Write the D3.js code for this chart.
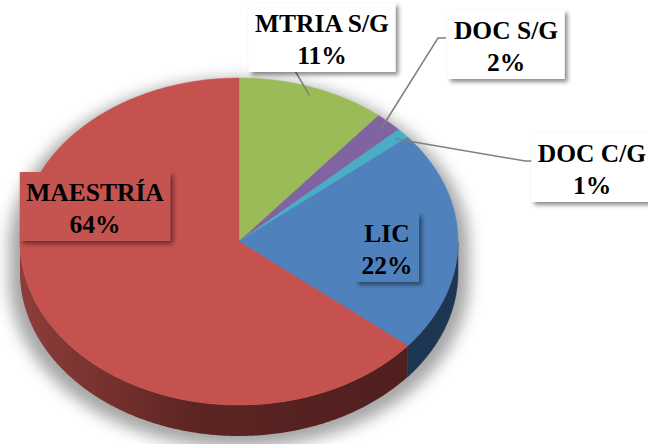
<!DOCTYPE html>
<html>
<head>
<meta charset="utf-8">
<script src="https://cdn.jsdelivr.net/npm/d3@7"></script>
<style>
  body { margin: 0; background: #fff; }
  .lbl { font-family: "Liberation Serif", "Times New Roman", serif; font-weight: bold; font-size: 25.5px; fill: #000; }
</style>
</head>
<body>
<div id="chart"></div>
<script>
// data
var labels = ["MTRIA S/G", "DOC S/G", "DOC C/G", "LIC", "MAESTRÍA"];
var values = [11, 2, 1, 22, 64];
var colors = ["#9BBB59", "#8064A2", "#4BACC6", "#4F81BD", "#C5524F"];
var sideColors = ["#5d7035", "#4c3c61", "#2d6776", "#1f3652", "#6e2b29"];

var svgWidth = 648;
var svgHeight = 444;

// pie geometry (top ellipse + depth)
var cx = 239, cy = 241.5, rx = 219, ry = 163.5, depth = 31;

// label box layout: centre x, top y, leader elbow / end
var boxes = [
  { x: 322, y: 3, inside: false, pts: [[291, 64]] },
  { x: 506, y: 10, inside: false, pts: [[438, 38], [446, 38]] },
  { x: 592, y: 133, inside: false, pts: [[525, 161], [533, 161]] },
  { x: 387, y: 213, inside: true },
  { x: 95, y: 172, inside: true }
];

var svg = d3.select("#chart").append("svg")
  .attr("width", svgWidth)
  .attr("height", svgHeight);

var defs = svg.append("defs");
defs.append("filter").attr("id", "pieShadow")
  .attr("x", "-20%").attr("y", "-20%").attr("width", "140%").attr("height", "140%")
  .append("feGaussianBlur").attr("stdDeviation", 7);

var ds = defs.append("filter").attr("id", "boxShadow")
  .attr("x", "-20%").attr("y", "-20%").attr("width", "150%").attr("height", "150%");
ds.append("feDropShadow").attr("dx", 3).attr("dy", 3).attr("stdDeviation", 2)
  .attr("flood-color", "#000").attr("flood-opacity", 0.45);

var grad = defs.append("linearGradient").attr("id", "redSide")
  .attr("gradientUnits", "userSpaceOnUse")
  .attr("x1", cx - rx).attr("x2", cx + rx).attr("y1", 0).attr("y2", 0);
grad.append("stop").attr("offset", "0%").attr("stop-color", "#8e3d3a");
grad.append("stop").attr("offset", "40%").attr("stop-color", "#5c2523");
grad.append("stop").attr("offset", "100%").attr("stop-color", "#4c1d1d");

function pt(a, dy) {
  return [cx + rx * Math.sin(a), cy - ry * Math.cos(a) + (dy || 0)];
}

function arcPts(a0, a1, dy) {
  var n = Math.max(2, Math.ceil(Math.abs(a1 - a0) / 0.01));
  var out = [];
  for (var i = 0; i <= n; i++) out.push(pt(a0 + (a1 - a0) * i / n, dy));
  return out;
}

var line = d3.line();

var pie = d3.pie().sort(null).value(function (d) { return d; });
var arcs = pie(values);

// shadow silhouette
var sil = arcPts(0, Math.PI / 2).concat(arcPts(Math.PI / 2, 3 * Math.PI / 2, depth))
  .concat(arcPts(3 * Math.PI / 2, 2 * Math.PI));
svg.append("path")
  .attr("d", line(sil) + "Z")
  .attr("fill", "#888")
  .attr("opacity", 0.75)
  .attr("transform", "translate(" + cx + "," + (cy + 6) + ") scale(1.05,1.03) translate(" + (-cx) + "," + (-cy) + ")")
  .attr("filter", "url(#pieShadow)");

// side walls (front half only)
var sides = svg.append("g");
arcs.forEach(function (d, i) {
  var a0 = Math.max(d.startAngle, Math.PI / 2);
  var a1 = Math.min(d.endAngle, 3 * Math.PI / 2);
  if (a1 <= a0) return;
  var p = arcPts(a0, a1, 0).concat(arcPts(a1, a0, depth));
  sides.append("path")
    .attr("d", line(p) + "Z")
    .attr("fill", i === 4 ? "url(#redSide)" : sideColors[i])
    .attr("stroke", i === 4 ? "none" : sideColors[i])
    .attr("stroke-width", 0.5);
});

// top faces
var tops = svg.append("g");
arcs.forEach(function (d, i) {
  var p = [[cx, cy]].concat(arcPts(d.startAngle, d.endAngle, 0));
  tops.append("path")
    .attr("d", line(p) + "Z")
    .attr("fill", colors[i])
    .attr("stroke", colors[i])
    .attr("stroke-width", 0.5);
});

// leader lines
arcs.forEach(function (d, i) {
  var b = boxes[i];
  if (b.inside) return;
  var mid = (d.startAngle + d.endAngle) / 2;
  var a = [cx + rx * 0.95 * Math.sin(mid), cy - ry * 0.95 * Math.cos(mid)];
  svg.append("path")
    .attr("d", line([a].concat(b.pts)))
    .attr("fill", "none")
    .attr("stroke", "#7f7f7f")
    .attr("stroke-width", 1.5);
});

// label boxes
arcs.forEach(function (d, i) {
  var b = boxes[i];
  var g = svg.append("g");
  var rect = g.append("rect");
  var t1 = g.append("text").attr("class", "lbl")
    .attr("x", b.x).attr("y", b.y + 29)
    .attr("text-anchor", "middle")
    .text(labels[i]);
  var t2 = g.append("text").attr("class", "lbl")
    .attr("x", b.x).attr("y", b.y + 61)
    .attr("text-anchor", "middle")
    .text(d3.format(".0%")(d.value / d3.sum(values)));
  var w = Math.max(t1.node().getComputedTextLength(), t2.node().getComputedTextLength()) + 13;
  rect.attr("x", b.x - w / 2).attr("y", b.y)
    .attr("width", w).attr("height", 69)
    .attr("fill", b.inside ? colors[i] : "#fff")
    .attr("filter", "url(#boxShadow)");
});
</script>
</body>
</html>
